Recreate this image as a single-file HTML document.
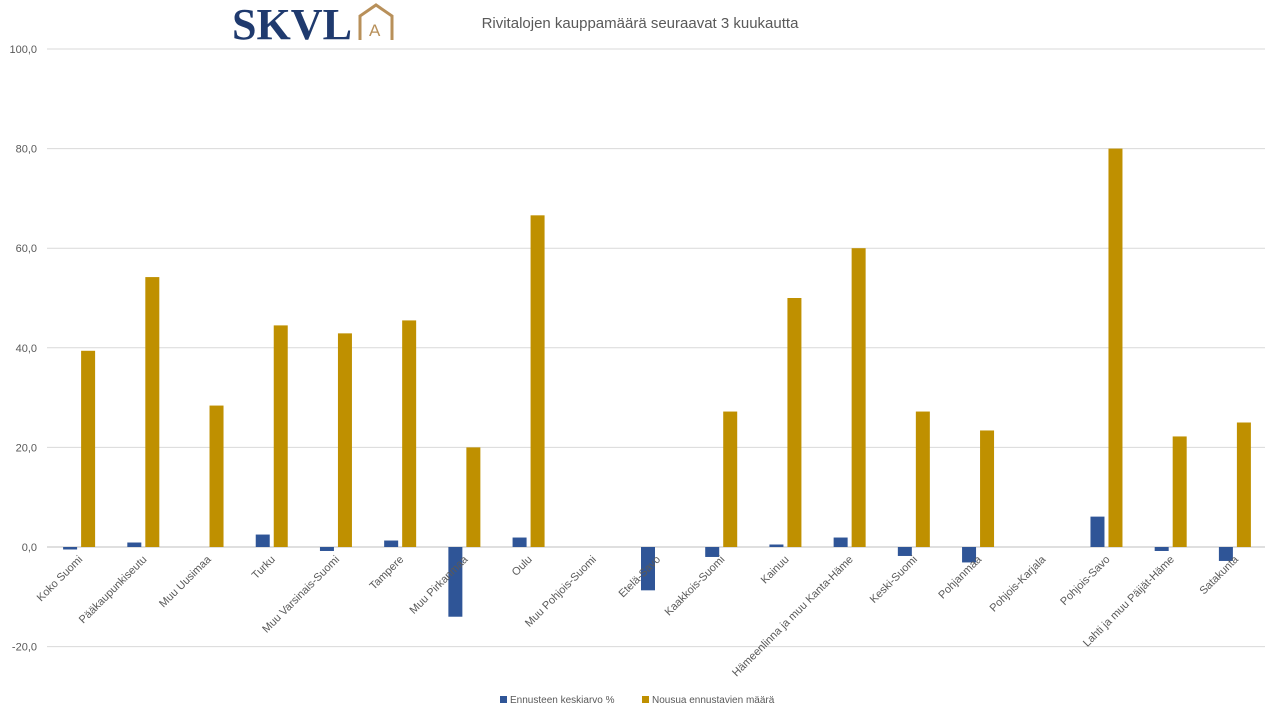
<!DOCTYPE html>
<html><head><meta charset="utf-8"><style>
body{margin:0;background:#fff;font-family:"Liberation Sans",sans-serif}
</style></head><body>
<svg width="1280" height="720" style="font-family:'Liberation Sans',sans-serif">
<g>
<text x="232" y="39" style="font-family:'Liberation Serif',serif;font-weight:bold" font-size="44" fill="#1f3a6e" textLength="120" lengthAdjust="spacingAndGlyphs">SKVL</text>
<path d="M360 40 V16 L376 5 L392 16 V40" fill="none" stroke="#b8905a" stroke-width="3"/>
<text x="369" y="36" font-size="17" fill="#b8905a">A</text>
</g>
<text x="640" y="28" text-anchor="middle" font-size="15" fill="#595959">Rivitalojen kauppamäärä seuraavat 3 kuukautta</text>
<g id="grid"></g><g id="bars"></g><g id="labels"></g>
<g>
<rect x="500" y="696" width="7" height="7" fill="#2f5597"/>
<text x="510" y="703" font-size="10" fill="#595959">Ennusteen keskiarvo %</text>
<rect x="642" y="696" width="7" height="7" fill="#bf9000"/>
<text x="652" y="703" font-size="10" fill="#595959">Nousua ennustavien määrä</text>
</g>
</svg>
<script>
const categories=["Koko Suomi","Pääkaupunkiseutu","Muu Uusimaa","Turku","Muu Varsinais-Suomi","Tampere","Muu Pirkanmaa","Oulu","Muu Pohjois-Suomi","Etelä-Savo","Kaakkois-Suomi","Kainuu","Hämeenlinna ja muu Kanta-Häme","Keski-Suomi","Pohjanmaa","Pohjois-Karjala","Pohjois-Savo","Lahti ja muu Päijät-Häme","Satakunta"];
const avgValues=[-0.5,0.9,0,2.5,-0.8,1.3,-14,1.9,0,-8.7,-2,0.5,1.9,-1.8,-3.1,0,6.1,-0.8,-2.8];
const upValues=[39.4,54.2,28.4,44.5,42.9,45.5,20,66.6,0,0,27.2,50,60,27.2,23.4,0,80,22.2,25];
const yTicks=[-20,0,20,40,60,80,100];
const NS="http://www.w3.org/2000/svg";
const y=v=>547-v*4.98;
const cw=1220/categories.length;
const xc=i=>45+cw*(i+0.5);
const grid=document.getElementById('grid');
yTicks.forEach(t=>{
 const l=document.createElementNS(NS,'line');
 l.setAttribute('x1',47);l.setAttribute('x2',1265);l.setAttribute('y1',y(t));l.setAttribute('y2',y(t));
 l.setAttribute('stroke',t===0?'#bfbfbf':'#d9d9d9');
 
 
 grid.appendChild(l);
 const tx=document.createElementNS(NS,'text');
 tx.setAttribute('x',37);tx.setAttribute('y',y(t)+4);tx.setAttribute('text-anchor','end');
 tx.setAttribute('font-size','11');tx.setAttribute('fill','#595959');
 tx.textContent=t.toFixed(1).replace('.',',');
 
 
 grid.appendChild(tx);
});
const bars=document.getElementById('bars'),labels=document.getElementById('labels');
categories.forEach((c,i)=>{
 [[avgValues[i],xc(i)-14,'#2f5597','bar-avg'],[upValues[i],xc(i)+4,'#bf9000','bar-up']].forEach(([v,x,col,n])=>{
  if(v===0)return;
  const r=document.createElementNS(NS,'rect');
  r.setAttribute('x',x);r.setAttribute('width',14);
  r.setAttribute('y',Math.min(y(v),y(0)));r.setAttribute('height',Math.abs(y(v)-y(0)));
  r.setAttribute('fill',col);
  
  
  bars.appendChild(r);
 });
 const t=document.createElementNS(NS,'text');
 const lx=xc(i)+6,ly=560;
 t.setAttribute('x',lx);t.setAttribute('y',ly);t.setAttribute('text-anchor','end');
 t.setAttribute('font-size','11');t.setAttribute('fill','#595959');
 t.setAttribute('transform',`rotate(-45 ${lx} ${ly})`);
 t.textContent=c;
 
 
 labels.appendChild(t);
});
</script>
</body></html>
